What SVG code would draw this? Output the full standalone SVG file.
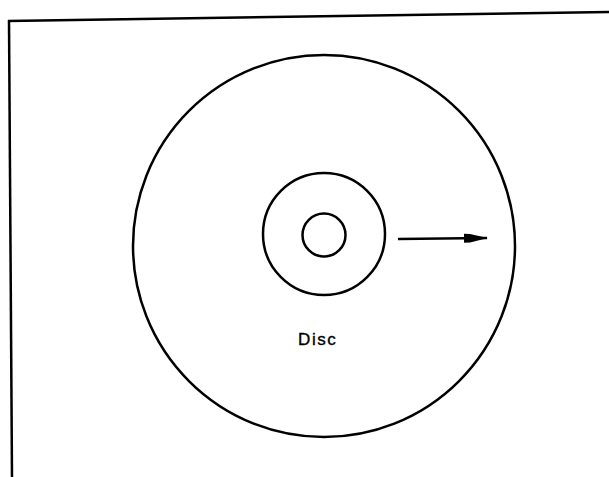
<svg xmlns="http://www.w3.org/2000/svg" width="609" height="477" viewBox="0 0 609 477">
<style>
.ln{fill:none;stroke:#000;stroke-width:2.5}
.lbl{font-family:"Liberation Sans",Arial,sans-serif;font-size:17px;fill:#000;stroke:#000;stroke-width:0.35;letter-spacing:1.6px}
</style>
<defs>
<marker id="ah" markerWidth="24" markerHeight="10" refX="23" refY="5" orient="auto" markerUnits="userSpaceOnUse">
<path d="M0,0.5 L6,0.8 L24,5 L6,9.2 L0,9.5 Z" fill="#000"/>
</marker>
</defs>
<rect width="609" height="477" fill="#fff"/>
<g id="frame">
<path class="ln" d="M8,21 L609,12" stroke-width="2.8"/>
<path class="ln" d="M9,20 L12,477" stroke-width="2.6"/>
</g>
<g id="disc">
<circle class="ln" cx="324" cy="246" r="191"/>
<circle class="ln" cx="324" cy="234" r="61" stroke-width="2.8"/>
<circle class="ln" cx="324" cy="235" r="21.5" stroke-width="2.6"/>
<text class="lbl" x="298" y="345">Disc</text>
</g>
<g id="connectors">
<line class="ln" x1="398" y1="239" x2="487" y2="238" stroke-width="2.2" marker-end="url(#ah)"/>
</g>
</svg>
